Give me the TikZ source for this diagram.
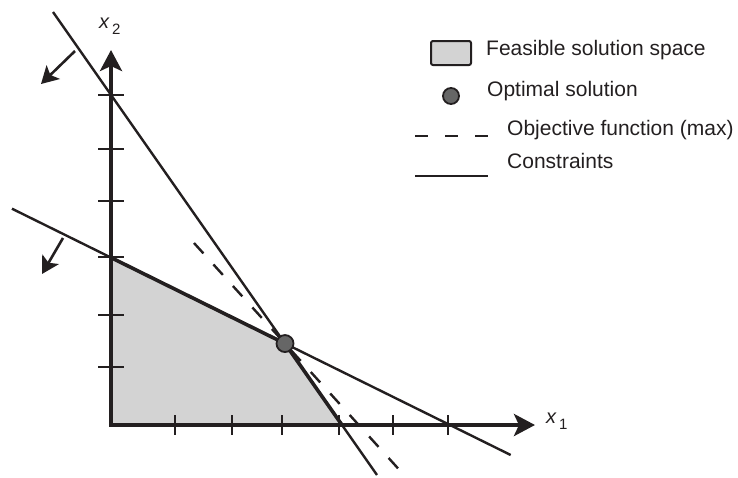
\documentclass[tikz,border=0pt]{standalone}
\usepackage{fontspec}
\setmainfont{Liberation Sans}
\usetikzlibrary{arrows.meta,calc}
\definecolor{ink}{HTML}{231F20}
\definecolor{feas}{HTML}{D3D3D3}
\definecolor{optc}{HTML}{666666}
\newcommand\varlab[1]{{\fontsize{20}{20}\selectfont\itshape x}\kern3pt\raisebox{-6pt}{\fontsize{15}{15}\selectfont #1}}
\tikzset{
  axisline/.style={line width=4.5pt, draw=ink, line join=miter,
    {Stealth[length=21pt,width=22pt,inset=5pt]}-{Stealth[length=21pt,width=22pt,inset=5pt]}},
  tickmark/.style={line width=2.5pt, draw=ink},
  constraint/.style={line width=2.4pt, draw=ink},
  edge/.style={line width=3.6pt, draw=ink, line cap=round},
  objective/.style={line width=2.4pt, draw=ink, dash pattern=on 14pt off 15pt},
  cutarrow/.style={line width=2.6pt, draw=ink, -{Stealth[length=17pt,width=19pt,inset=4pt]}},
  optpoint/.style={circle, minimum size=17pt, inner sep=0pt, fill=optc, draw=ink, line width=1.8pt},
  legtext/.style={anchor=base west, inner sep=0pt, font=\fontsize{21}{21}\selectfont, text=ink},
  axlabel/.style={anchor=base west, inner sep=0pt, text=ink},
}
\begin{document}
\begin{tikzpicture}[x=1pt,y=-1pt]
\useasboundingbox (0,0) rectangle (738,477);
% constraint lines
\coordinate (a1) at (53,12);
\coordinate (a2) at (377,475);
\coordinate (b1) at (12,208.7);
\coordinate (b2) at (510.7,455);
\coordinate (O) at (111,425);
\coordinate (P) at (intersection of a1--a2 and b1--b2);
\coordinate (Yc) at (intersection of b1--b2 and 111,0--111,477);
\coordinate (Xc) at (intersection of a1--a2 and 0,425--738,425);
% feasible region
\fill[feas] (O) -- (Yc) -- (P) -- (Xc) -- cycle;
% constraints
\draw[constraint] (a1) -- (a2);
\draw[constraint] (b1) -- (b2);
% objective
\coordinate (d1) at (194,243);
\coordinate (d2) at ($(d1)!2.3!(P)$);
\draw[objective] (d1) -- (d2);
% region edges
\draw[edge] (Yc) -- (P) -- (Xc);
% axes
\coordinate (ytip) at (111,50);
\coordinate (xtip) at (535,425);
\draw[axisline] (ytip) -- (O) -- (xtip);
% ticks
\foreach \t in {175,232,282,339,393,448} \draw[tickmark] (\t,415) -- (\t,435);
\foreach \t in {95,149,201,257,315,367} \draw[tickmark] (98,\t) -- (124,\t);
% cut arrows
\coordinate (c1s) at (75,51); \coordinate (c1e) at (41,84);
\coordinate (c2s) at (63,238); \coordinate (c2e) at (42,274);
\draw[cutarrow] (c1s) -- (c1e);
\draw[cutarrow] (c2s) -- (c2e);
% optimal point
\node[optpoint] (opt) at (P) {};
% axis labels
\node[axlabel] (x1) at (546,423) {\varlab{1}};
\node[axlabel] (x2) at (99,28) {\varlab{2}};
% legend
\draw[fill=feas, draw=ink, line width=2pt, rounded corners=2pt] (431,41) rectangle (471,65);
\node[legtext] (l1) at (486,55) {Feasible solution space};
\node[optpoint, minimum size=16pt] (l2p) at (451,96) {};
\node[legtext] (l2) at (487,96) {Optimal solution};
\coordinate (l3a) at (415,136); \coordinate (l3b) at (488,136);
\draw[line width=2.5pt, draw=ink, dash pattern=on 13pt off 17pt] (l3a) -- (l3b);
\node[legtext] (l3) at (507,135) {Objective function (max)};
\coordinate (l4a) at (415,176); \coordinate (l4b) at (488,176);
\draw[line width=2.5pt, draw=ink] (l4a) -- (l4b);
\node[legtext] (l4) at (507,168) {Constraints};
\end{tikzpicture}
\end{document}
